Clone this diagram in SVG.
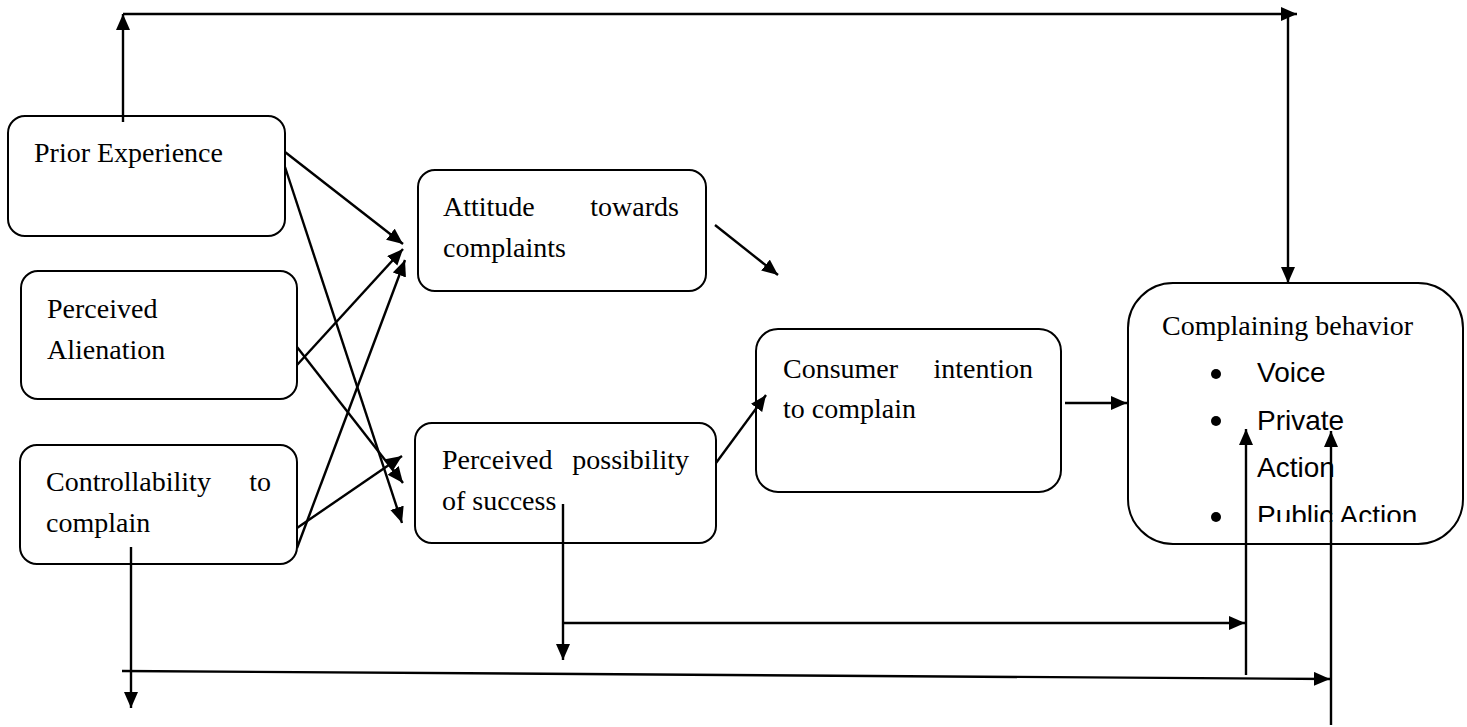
<svg xmlns="http://www.w3.org/2000/svg" width="1467" height="727" viewBox="0 0 1467 727">
<style>
.box{fill:#fff;stroke:#000;stroke-width:2}
.t{font-family:"Liberation Serif","Times New Roman",serif;font-size:28px;fill:#000}
.s{font-family:"Liberation Sans",Arial,sans-serif;font-size:28px;fill:#000}
.c{fill:none;stroke:#000;stroke-width:2.4}
.a{marker-end:url(#ah)}
</style>
<defs>
<marker id="ah" markerUnits="userSpaceOnUse" markerWidth="17" markerHeight="15" refX="16" refY="7" orient="auto">
<path d="M0,0 L16,7 L0,14 z" fill="#000"/>
</marker>
<clipPath id="clipPub"><rect x="1130" y="480" width="330" height="42"/></clipPath>
</defs>
<rect width="1467" height="727" fill="#fff"/>

<g id="node-prior">
<rect class="box" x="8" y="116" width="277" height="120" rx="17"/>
<text class="t" x="34" y="162">Prior Experience</text>
</g>
<g id="node-alienation">
<rect class="box" x="21" y="271" width="276" height="128" rx="17"/>
<text class="t" x="47" y="318">Perceived</text>
<text class="t" x="47" y="359">Alienation</text>
</g>
<g id="node-controllability">
<rect class="box" x="20" y="445" width="277" height="119" rx="17"/>
<text class="t" x="46" y="491">Controllability</text>
<text class="t" x="271" y="491" text-anchor="end">to</text>
<text class="t" x="46" y="532">complain</text>
</g>
<g id="node-attitude">
<rect class="box" x="418" y="170" width="288" height="121" rx="17"/>
<text class="t" x="443" y="216">Attitude</text>
<text class="t" x="679" y="216" text-anchor="end">towards</text>
<text class="t" x="443" y="257">complaints</text>
</g>
<g id="node-possibility">
<rect class="box" x="415" y="423" width="301" height="120" rx="17"/>
<text class="t" x="442" y="469">Perceived</text>
<text class="t" x="689" y="469" text-anchor="end">possibility</text>
<text class="t" x="442" y="510">of success</text>
</g>
<g id="node-intention">
<rect class="box" x="756" y="329" width="305" height="163" rx="22"/>
<text class="t" x="783" y="378">Consumer</text>
<text class="t" x="1033" y="378" text-anchor="end">intention</text>
<text class="t" x="783" y="418">to complain</text>
</g>
<g id="node-behavior">
<rect class="box" x="1128" y="283" width="335" height="261" rx="45"/>
<text class="t" x="1162" y="335">Complaining behavior</text>
<circle cx="1216" cy="374" r="5"/>
<text class="s" x="1257" y="382">Voice</text>
<circle cx="1216" cy="421" r="5"/>
<text class="s" x="1257" y="430">Private</text>
<text class="s" x="1257" y="477">Action</text>
<circle cx="1216" cy="517" r="5"/>
<text class="s" x="1257" y="525" clip-path="url(#clipPub)">Public Action</text>
</g>

<g id="connectors">
<path class="c a" d="M123,122 L123,14"/>
<path class="c a" d="M123,14 L1297,14"/>
<path class="c a" d="M1288,14 L1288,283"/>
<path class="c a" d="M285,152 L403,244"/>
<path class="c a" d="M285,167 L402,523"/>
<path class="c a" d="M297,365 L403,249"/>
<path class="c a" d="M297,347 L403,483"/>
<path class="c a" d="M297,548 L405,260"/>
<path class="c a" d="M297,528 L402,456"/>
<path class="c a" d="M715,225 L778,275"/>
<path class="c a" d="M716,463 L766,395"/>
<path class="c a" d="M1065,403 L1127,403"/>
<path class="c a" d="M563,504 L563,660"/>
<path class="c a" d="M563,623 L1245,623"/>
<path class="c a" d="M1246,675 L1246,429"/>
<path class="c a" d="M131,547 L131,708"/>
<path class="c a" d="M122,671 L1330,679"/>
<path class="c a" d="M1331,725 L1331,431"/>
</g>
</svg>
